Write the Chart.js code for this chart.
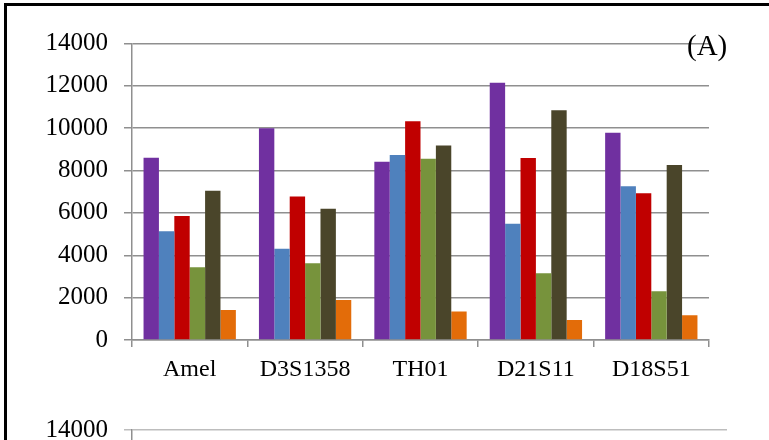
<!DOCTYPE html>
<html>
<head>
<meta charset="utf-8">
<script src="https://cdn.jsdelivr.net/npm/chart.js@4/dist/chart.umd.min.js"></script>
<style>
  html, body { margin: 0; padding: 0; background: #fff; overflow: hidden; }
  body { width: 769px; height: 440px; position: relative; }
  #frame { position: absolute; left: 4px; top: 3px; width: 780px; height: 460px;
           border-top: 3px solid #000; border-left: 3px solid #000; }
  #chart1 { position: absolute; left: 0; top: 0; }
  #wrap2 { position: absolute; left: 0; top: 390px; width: 769px; height: 50px; overflow: hidden; }
  #chart2 { position: absolute; left: 0; top: 0; }
  #label { position: absolute; left: 687px; top: 29px; font-family: "Liberation Serif", serif;
           font-size: 29px; color: #000; }
</style>
</head>
<body>
<div id="frame"></div>
<canvas id="chart1" width="769" height="400"></canvas>
<div id="wrap2"><canvas id="chart2" width="769" height="400"></canvas></div>
<div id="label">(A)</div>
<script>
// loci on the x axis
var loci = ['Amel', 'D3S1358', 'TH01', 'D21S11', 'D18S51'];

// six samples per locus
var purpleVals = [8600, 10000, 8420, 12150, 9790];
var blueVals = [5130, 4310, 8740, 5490, 7260];
var redVals = [5860, 6780, 10330, 8590, 6930];
var greenVals = [3430, 3620, 8560, 3150, 2300];
var darkVals = [7050, 6200, 9180, 10850, 8260];
var orangeVals = [1420, 1890, 1340, 940, 1170];

var yTicks = [0, 2000, 4000, 6000, 8000, 10000, 12000, 14000];

var colors = ['#7030A0', '#4F81BD', '#C00000', '#77933C', '#4A452A', '#E36C09'];
var gridGray = '#8f8f8f';

function makeSet(vals, i) {
  return {
    data: vals,
    backgroundColor: colors[i],
    borderWidth: 0,
    categoryPercentage: 0.8,
    barPercentage: 1.0
  };
}

var serif = '"Liberation Serif", "DejaVu Serif", serif';

function yAxis(gridColor) {
  return {
    min: 0,
    max: 14000,
    afterBuildTicks: function (scale) {
      scale.ticks = yTicks.map(function (v) { return { value: v }; });
    },
    grid: { color: gridColor, lineWidth: 1.5, tickLength: 8 },
    border: { display: true, color: gridGray, width: 1.5 },
    ticks: {
      color: '#000',
      font: { family: serif, size: 25 },
      padding: 16,
      autoSkip: false,
      callback: function (v) { return String(v); }
    },
    afterFit: function (scale) { scale.width = 132; }
  };
}

new Chart(document.getElementById('chart1'), {
  type: 'bar',
  data: {
    labels: loci,
    datasets: [
      makeSet(purpleVals, 0),
      makeSet(blueVals, 1),
      makeSet(redVals, 2),
      makeSet(greenVals, 3),
      makeSet(darkVals, 4),
      makeSet(orangeVals, 5)
    ]
  },
  options: {
    responsive: false,
    animation: false,
    layout: { padding: { top: 43.5, right: 60, left: 0, bottom: 0 } },
    plugins: { legend: { display: false }, tooltip: { enabled: false } },
    scales: {
      x: {
        offset: true,
        grid: { drawOnChartArea: false, offset: true, color: gridGray, lineWidth: 1.5, tickLength: 7 },
        border: { display: true, color: gridGray, width: 1.5 },
        ticks: { color: '#000', font: { family: serif, size: 24 }, padding: 8, maxRotation: 0 },
        afterFit: function (scale) { scale.height = 60; }
      },
      y: yAxis(gridGray)
    }
  }
});

// the next chart below, only its top edge is in view
var chart2 = new Chart(document.getElementById('chart2'), {
  type: 'bar',
  data: { labels: loci, datasets: [{ data: [null, null, null, null, null] }] },
  options: {
    responsive: false,
    animation: false,
    layout: { padding: { top: 40, right: 42, left: 0, bottom: 0 } },
    plugins: { legend: { display: false }, tooltip: { enabled: false } },
    scales: {
      x: { display: false },
      y: yAxis('#bdbdbd')
    }
  }
});

// slide the window so the top gridline of chart 2 sits at y = 430
var wrap2 = document.getElementById('wrap2');
var topGrid = chart2.scales.y.getPixelForValue(14000);
wrap2.style.top = (430 - topGrid + 20) + 'px';
document.getElementById('chart2').style.top = '-20px';
</script>
</body>
</html>
